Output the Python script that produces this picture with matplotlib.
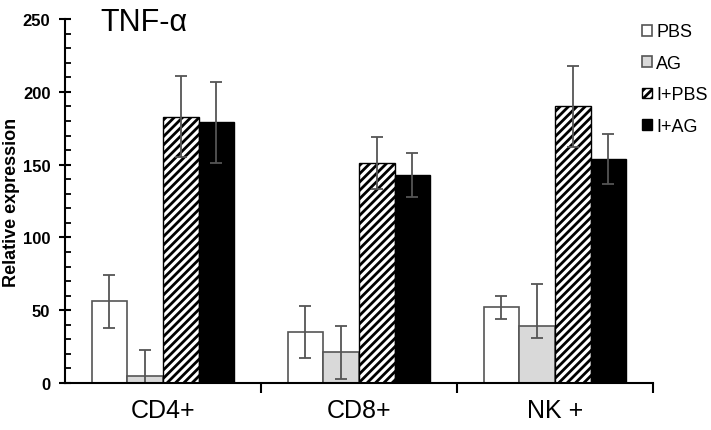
import matplotlib.pyplot as plt
import numpy as np
from matplotlib.ticker import MultipleLocator

plt.rcParams['font.family'] = ['Liberation Sans', 'DejaVu Sans']
plt.rcParams['hatch.linewidth'] = 2.0

# data
groups = ["CD4+", "CD8+", "NK +"]
series = ["PBS", "AG", "I+PBS", "I+AG"]
pbs = [56, 35, 52]
ag = [5, 21, 39]
ipbs = [183, 151, 190]
iag = [179, 143, 154]
err_pbs = [18, 18, 8]
err_ag_lo = [18, 18, 8]
err_ag_hi = [18, 18, 29]
err_ipbs = [28, 18, 28]
err_iag = [28, 15, 17]

fig = plt.figure(figsize=(7.11, 4.31), dpi=100)
ax = fig.add_axes([0.0914, 0.109, 0.827, 0.8445])

x = np.arange(len(groups)) + 0.5
w = 0.182
ekw = dict(ecolor="#555555", elinewidth=1.3, capsize=4, capthick=1.3)

ax.bar(x - 1.5*w, pbs, w, color="white", edgecolor="#555555", linewidth=1.2,
       yerr=err_pbs, error_kw=ekw, label=series[0])
ax.bar(x - 0.5*w, ag, w, color="#d9d9d9", edgecolor="#555555", linewidth=1.2,
       yerr=[err_ag_lo, err_ag_hi], error_kw=ekw, label=series[1])
ax.bar(x + 0.5*w, ipbs, w, color="white", edgecolor="black", linewidth=1.0,
       hatch="////", yerr=err_ipbs, error_kw=ekw, label=series[2])
ax.bar(x + 1.5*w, iag, w, color="black", edgecolor="black", linewidth=1.0,
       yerr=err_iag, error_kw=ekw, label=series[3])

ax.set_xlim(0, 3)
ax.set_ylim(0, 250)
ax.spines['top'].set_visible(False)
ax.spines['right'].set_visible(False)
ax.spines['left'].set_linewidth(1.5)
ax.spines['bottom'].set_linewidth(1.5)

ax.yaxis.set_major_locator(MultipleLocator(50))
ax.yaxis.set_minor_locator(MultipleLocator(10))
ax.tick_params(axis='y', which='major', direction='inout', length=9, width=1.5,
               labelsize=12, pad=6)
ax.tick_params(axis='y', which='minor', direction='in', length=4, width=1.3)
for t in ax.get_yticklabels():
    t.set_fontweight('bold')

ax.set_xticks([1, 2, 3])
ax.set_xticklabels([])
ax.set_xticks(x, minor=True)
ax.set_xticklabels(groups, minor=True, fontsize=18)
ax.tick_params(axis='x', which='major', direction='out', length=7, width=1.5)
ax.tick_params(axis='x', which='minor', length=0, pad=11)

ax.set_ylabel("Relative expression", fontsize=13, fontweight='bold')
ax.yaxis.set_label_coords(-0.077, 0.5)
ax.text(0.18, 248, "TNF-α", fontsize=22, va='center', ha='left')

ax.legend(loc='upper left', bbox_to_anchor=(0.8925, 0.96), bbox_transform=fig.transFigure,
          frameon=False, fontsize=13, handlelength=0.55, handleheight=0.55,
          handletextpad=0.25, labelspacing=0.8, borderaxespad=0)

fig.savefig("out.png", dpi=100)
